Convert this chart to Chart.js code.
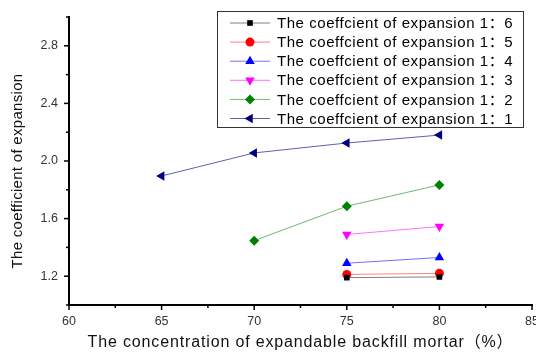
<!DOCTYPE html>
<html><head><meta charset="utf-8">
<script src="https://cdn.jsdelivr.net/npm/chart.js@4/dist/chart.umd.min.js"></script>
<style>html,body{margin:0;padding:0;background:#fff}#wrap{width:536px;height:356px}</style>
</head><body><div id="wrap"><canvas id="c" width="536" height="356"></canvas></div>
<script>
const concentration = [65, 70, 75, 80];
const ratio16 = [null, null, 1.19, 1.195];
const ratio15 = [null, null, 1.212, 1.22];
const ratio14 = [null, null, 1.29, 1.33];
const ratio13 = [null, null, 1.49, 1.545];
const ratio12 = [null, 1.447, 1.686, 1.834];
const ratio11 = [1.896, 2.056, 2.125, 2.18];
const seriesNames = ["The coeffcient of expansion 1：6","The coeffcient of expansion 1：5","The coeffcient of expansion 1：4","The coeffcient of expansion 1：3","The coeffcient of expansion 1：2","The coeffcient of expansion 1：1"];
const xTicks = [60, 65, 70, 75, 80, 85];
const yTicks = [1.2, 1.6, 2.0, 2.4, 2.8];
const xTitle = "The concentration of expandable backfill mortar（%）";
const yTitle = "The coefficient of expansion";

const FONT = "'Liberation Sans', Arial, 'Noto Sans CJK SC', sans-serif";
function pts(arr){ const o=[]; arr.forEach((v,i)=>{ if(v!==null) o.push({x:concentration[i], y:v}); }); return o; }
const styles = [
  {marker:'#000000', line:'#808080', style:'rect', rot:0, r:4},
  {marker:'#ff0000', line:'#ff8080', style:'circle', rot:0, r:4.5},
  {marker:'#0000ff', line:'#7070ff', style:'triangle', rot:0, r:5.5},
  {marker:'#ff00ff', line:'#ff70ff', style:'triangle', rot:180, r:5.5},
  {marker:'#008000', line:'#70b870', style:'rectRot', rot:0, r:5},
  {marker:'#000080', line:'#6060b0', style:'triangle', rot:-90, r:5.5}
];
const seriesData = [ratio16, ratio15, ratio14, ratio13, ratio12, ratio11];
const datasets = seriesData.map((d,i)=>({
  label: seriesNames[i], data: pts(d), showLine: true,
  borderColor: styles[i].line, borderWidth: 1,
  pointBackgroundColor: styles[i].marker, pointBorderColor: styles[i].marker,
  pointStyle: styles[i].style, pointRotation: styles[i].rot, pointRadius: styles[i].r, pointBorderWidth: 0
}));

const customDraw = {
  id: 'customDraw',
  afterDraw(chart){
    const ctx = chart.ctx, xs = chart.scales.x, ys = chart.scales.y, a = chart.chartArea;
    ctx.save();
    ctx.strokeStyle = '#000'; ctx.lineWidth = 1.5;
    for (let v = 60; v <= 85.001; v += 2.5) {
      const px = xs.getPixelForValue(v);
      const major = Math.abs(v % 5) < 1e-6;
      ctx.beginPath(); ctx.moveTo(px, a.bottom); ctx.lineTo(px, a.bottom + (major ? 5 : 3)); ctx.stroke();
    }
    for (let v = 1.0; v <= 3.001; v += 0.2) {
      const py = ys.getPixelForValue(v);
      const major = yTicks.some(t => Math.abs(t - v) < 1e-6);
      ctx.beginPath(); ctx.moveTo(a.left, py); ctx.lineTo(a.left - (major ? 5 : 3), py); ctx.stroke();
    }
    ctx.fillStyle = '#111';
    ctx.textAlign = 'center'; ctx.textBaseline = 'middle';
    ctx.font = '16px ' + FONT; ctx.letterSpacing = '0.85px';
    ctx.fillText(xTitle, (a.left + a.right) / 2, 343);
    ctx.save(); ctx.translate(18, 171); ctx.rotate(-Math.PI/2);
    ctx.font = '15px ' + FONT; ctx.letterSpacing = '0.3px'; ctx.fillText(yTitle, 0, 0); ctx.restore();
    ctx.fillStyle = '#fff'; ctx.fillRect(217.5, 11.5, 306, 116);
    ctx.strokeStyle = '#333'; ctx.lineWidth = 1; ctx.strokeRect(217.5, 11.5, 306, 116);
    chart.data.datasets.forEach((ds, i) => {
      const y = 23 + 19.1 * i;
      ctx.strokeStyle = ds.borderColor; ctx.lineWidth = 1;
      ctx.beginPath(); ctx.moveTo(230, y); ctx.lineTo(270, y); ctx.stroke();
      ctx.fillStyle = ds.pointBackgroundColor; ctx.strokeStyle = ds.pointBorderColor;
      Chart.helpers.drawPoint(ctx, {pointStyle: ds.pointStyle, rotation: ds.pointRotation, radius: ds.pointRadius, borderWidth: 0}, 250, y);
      ctx.fillStyle = '#000'; ctx.font = '15px ' + FONT; ctx.letterSpacing = '0.55px'; ctx.textAlign = 'left'; ctx.textBaseline = 'middle';
      ctx.fillText(ds.label, 277, y + 1);
    });
    ctx.restore();
  }
};

new Chart(document.getElementById('c'), {
  type: 'scatter',
  data: { datasets },
  options: {
    responsive: false, animation: false,
    layout: { autoPadding: false, padding: { left: 0, right: 4, top: 17, bottom: 0 } },
    plugins: { legend: { display: false }, tooltip: { enabled: false } },
    scales: {
      x: {
        type: 'linear', min: 60, max: 85,
        afterBuildTicks: s => { s.ticks = xTicks.map(v => ({value: v})); },
        afterFit: s => { s.height = 51; s.paddingLeft = 0; s.paddingRight = 0; },
        grid: { display: true, drawOnChartArea: false, drawTicks: false },
        border: { display: true, color: '#000', width: 2 },
        ticks: { padding: 9, color: '#333', font: { family: FONT, size: 12.5 }, maxRotation: 0, autoSkip: false }
      },
      y: {
        type: 'linear', min: 1.0, max: 3.0,
        afterBuildTicks: s => { s.ticks = yTicks.map(v => ({value: v})); },
        afterFit: s => { s.width = 69; s.paddingTop = 0; s.paddingBottom = 0; },
        grid: { display: true, drawOnChartArea: false, drawTicks: false },
        border: { display: true, color: '#000', width: 2 },
        ticks: { padding: 11, color: '#333', font: { family: FONT, size: 12.5 }, callback: v => v.toFixed(1) }
      }
    }
  },
  plugins: [customDraw]
});
</script></body></html>
